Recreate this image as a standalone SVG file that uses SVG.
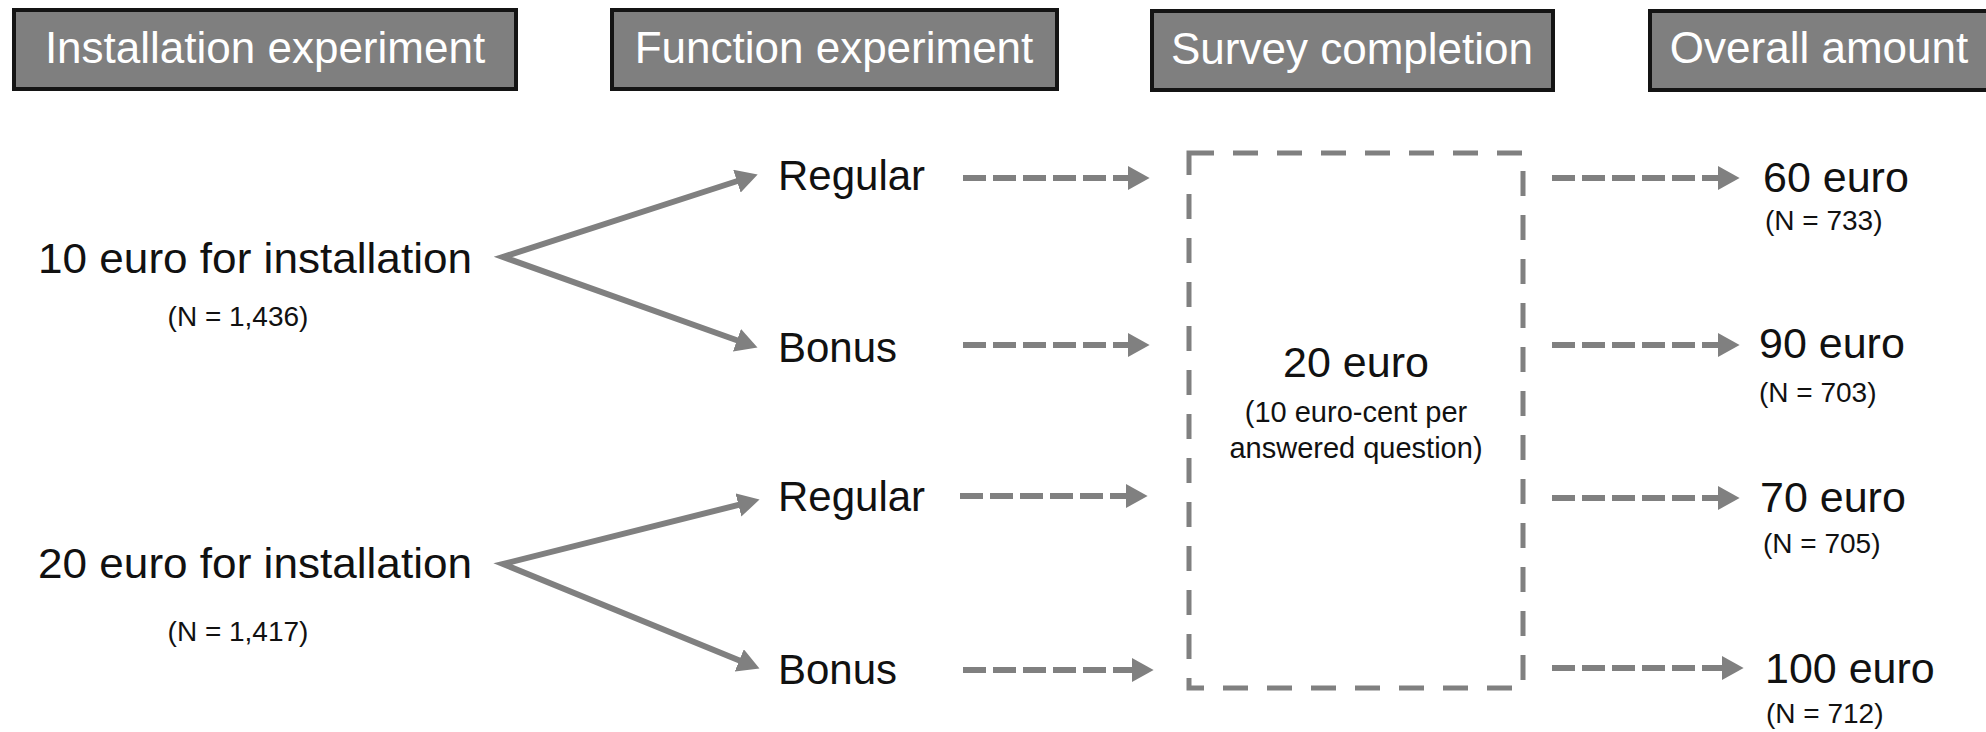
<svg xmlns="http://www.w3.org/2000/svg" width="1986" height="732" viewBox="0 0 1986 732">
<style>
.hdr rect{fill:#7f7f7f;stroke:#141414;stroke-width:4}
.hdr text{fill:#fff;font-family:"Liberation Sans",Arial,sans-serif;font-size:44px;text-anchor:middle}
.lbl{font-family:"Liberation Sans",Arial,sans-serif;fill:#111}
.big{font-size:43px}
.mid{font-size:42px}
.sm{font-size:28px}
.c{text-anchor:middle}
.solid{fill:none;stroke:#808080;stroke-width:6;stroke-linejoin:miter}
.dash{fill:none;stroke:#808080;stroke-width:6;stroke-dasharray:23 7}
.box{fill:none;stroke:#808080;stroke-width:5;stroke-dasharray:25 19}
</style>
<defs>
<marker id="ah" markerUnits="userSpaceOnUse" markerWidth="24" markerHeight="24" viewBox="0 0 22 22" refX="2" refY="11" orient="auto-start-reverse">
<path d="M0,0 L20,11 L0,22 z" fill="#808080"/>
</marker>
</defs>
<g id="hdr-installation" class="hdr"><rect x="14" y="10" width="502" height="79"/><text x="265" y="63">Installation experiment</text></g>
<g id="hdr-function" class="hdr"><rect x="612" y="10" width="445" height="79"/><text x="834" y="63">Function experiment</text></g>
<g id="hdr-survey" class="hdr"><rect x="1152" y="11" width="401" height="79"/><text x="1352" y="64">Survey completion</text></g>
<g id="hdr-overall" class="hdr"><rect x="1650" y="11" width="345" height="79"/><text x="1819" y="63">Overall amount</text></g>

<g id="inst10" class="lbl"><text class="big" x="38" y="273" textLength="434" lengthAdjust="spacingAndGlyphs">10 euro for installation</text><text class="sm c" x="238" y="326">(N = 1,436)</text></g>
<g id="inst20" class="lbl"><text class="big" x="38" y="578" textLength="434" lengthAdjust="spacingAndGlyphs">20 euro for installation</text><text class="sm c" x="238" y="641">(N = 1,417)</text></g>

<g id="reg1" class="lbl"><text class="mid" x="778" y="190">Regular</text></g>
<g id="bon1" class="lbl"><text class="mid" x="778" y="362">Bonus</text></g>
<g id="reg2" class="lbl"><text class="mid" x="778" y="511">Regular</text></g>
<g id="bon2" class="lbl"><text class="mid" x="778" y="684">Bonus</text></g>

<g id="survey-box"><rect class="box" x="1189" y="153" width="334" height="535"/>
<g class="lbl"><text class="big c" x="1356" y="377">20 euro</text><text class="c" x="1356" y="422" font-size="29">(10 euro-cent per</text><text class="c" x="1356" y="458" font-size="29">answered question)</text></g></g>

<g id="out60" class="lbl"><text class="big" x="1763" y="192">60 euro</text><text class="sm" x="1765" y="230">(N = 733)</text></g>
<g id="out90" class="lbl"><text class="big" x="1759" y="358">90 euro</text><text class="sm" x="1759" y="402">(N = 703)</text></g>
<g id="out70" class="lbl"><text class="big" x="1760" y="512">70 euro</text><text class="sm" x="1763" y="553">(N = 705)</text></g>
<g id="out100" class="lbl"><text class="big" x="1765" y="683">100 euro</text><text class="sm" x="1766" y="723">(N = 712)</text></g>

<g id="connectors">
<path class="solid" d="M739,180.5 L503,257 L739,341" marker-start="url(#ah)" marker-end="url(#ah)"/>
<path class="solid" d="M740.5,504.4 L503,564 L741.3,661.2" marker-start="url(#ah)" marker-end="url(#ah)"/>
<line class="dash" x1="963" y1="178" x2="1130" y2="178" marker-end="url(#ah)"/>
<line class="dash" x1="963" y1="345" x2="1130" y2="345" marker-end="url(#ah)"/>
<line class="dash" x1="960" y1="496" x2="1128" y2="496" marker-end="url(#ah)"/>
<line class="dash" x1="963" y1="670" x2="1134" y2="670" marker-end="url(#ah)"/>
<line class="dash" x1="1552" y1="178" x2="1720" y2="178" marker-end="url(#ah)"/>
<line class="dash" x1="1552" y1="345" x2="1720" y2="345" marker-end="url(#ah)"/>
<line class="dash" x1="1552" y1="498" x2="1720" y2="498" marker-end="url(#ah)"/>
<line class="dash" x1="1552" y1="668" x2="1724" y2="668" marker-end="url(#ah)"/>
</g>
</svg>
